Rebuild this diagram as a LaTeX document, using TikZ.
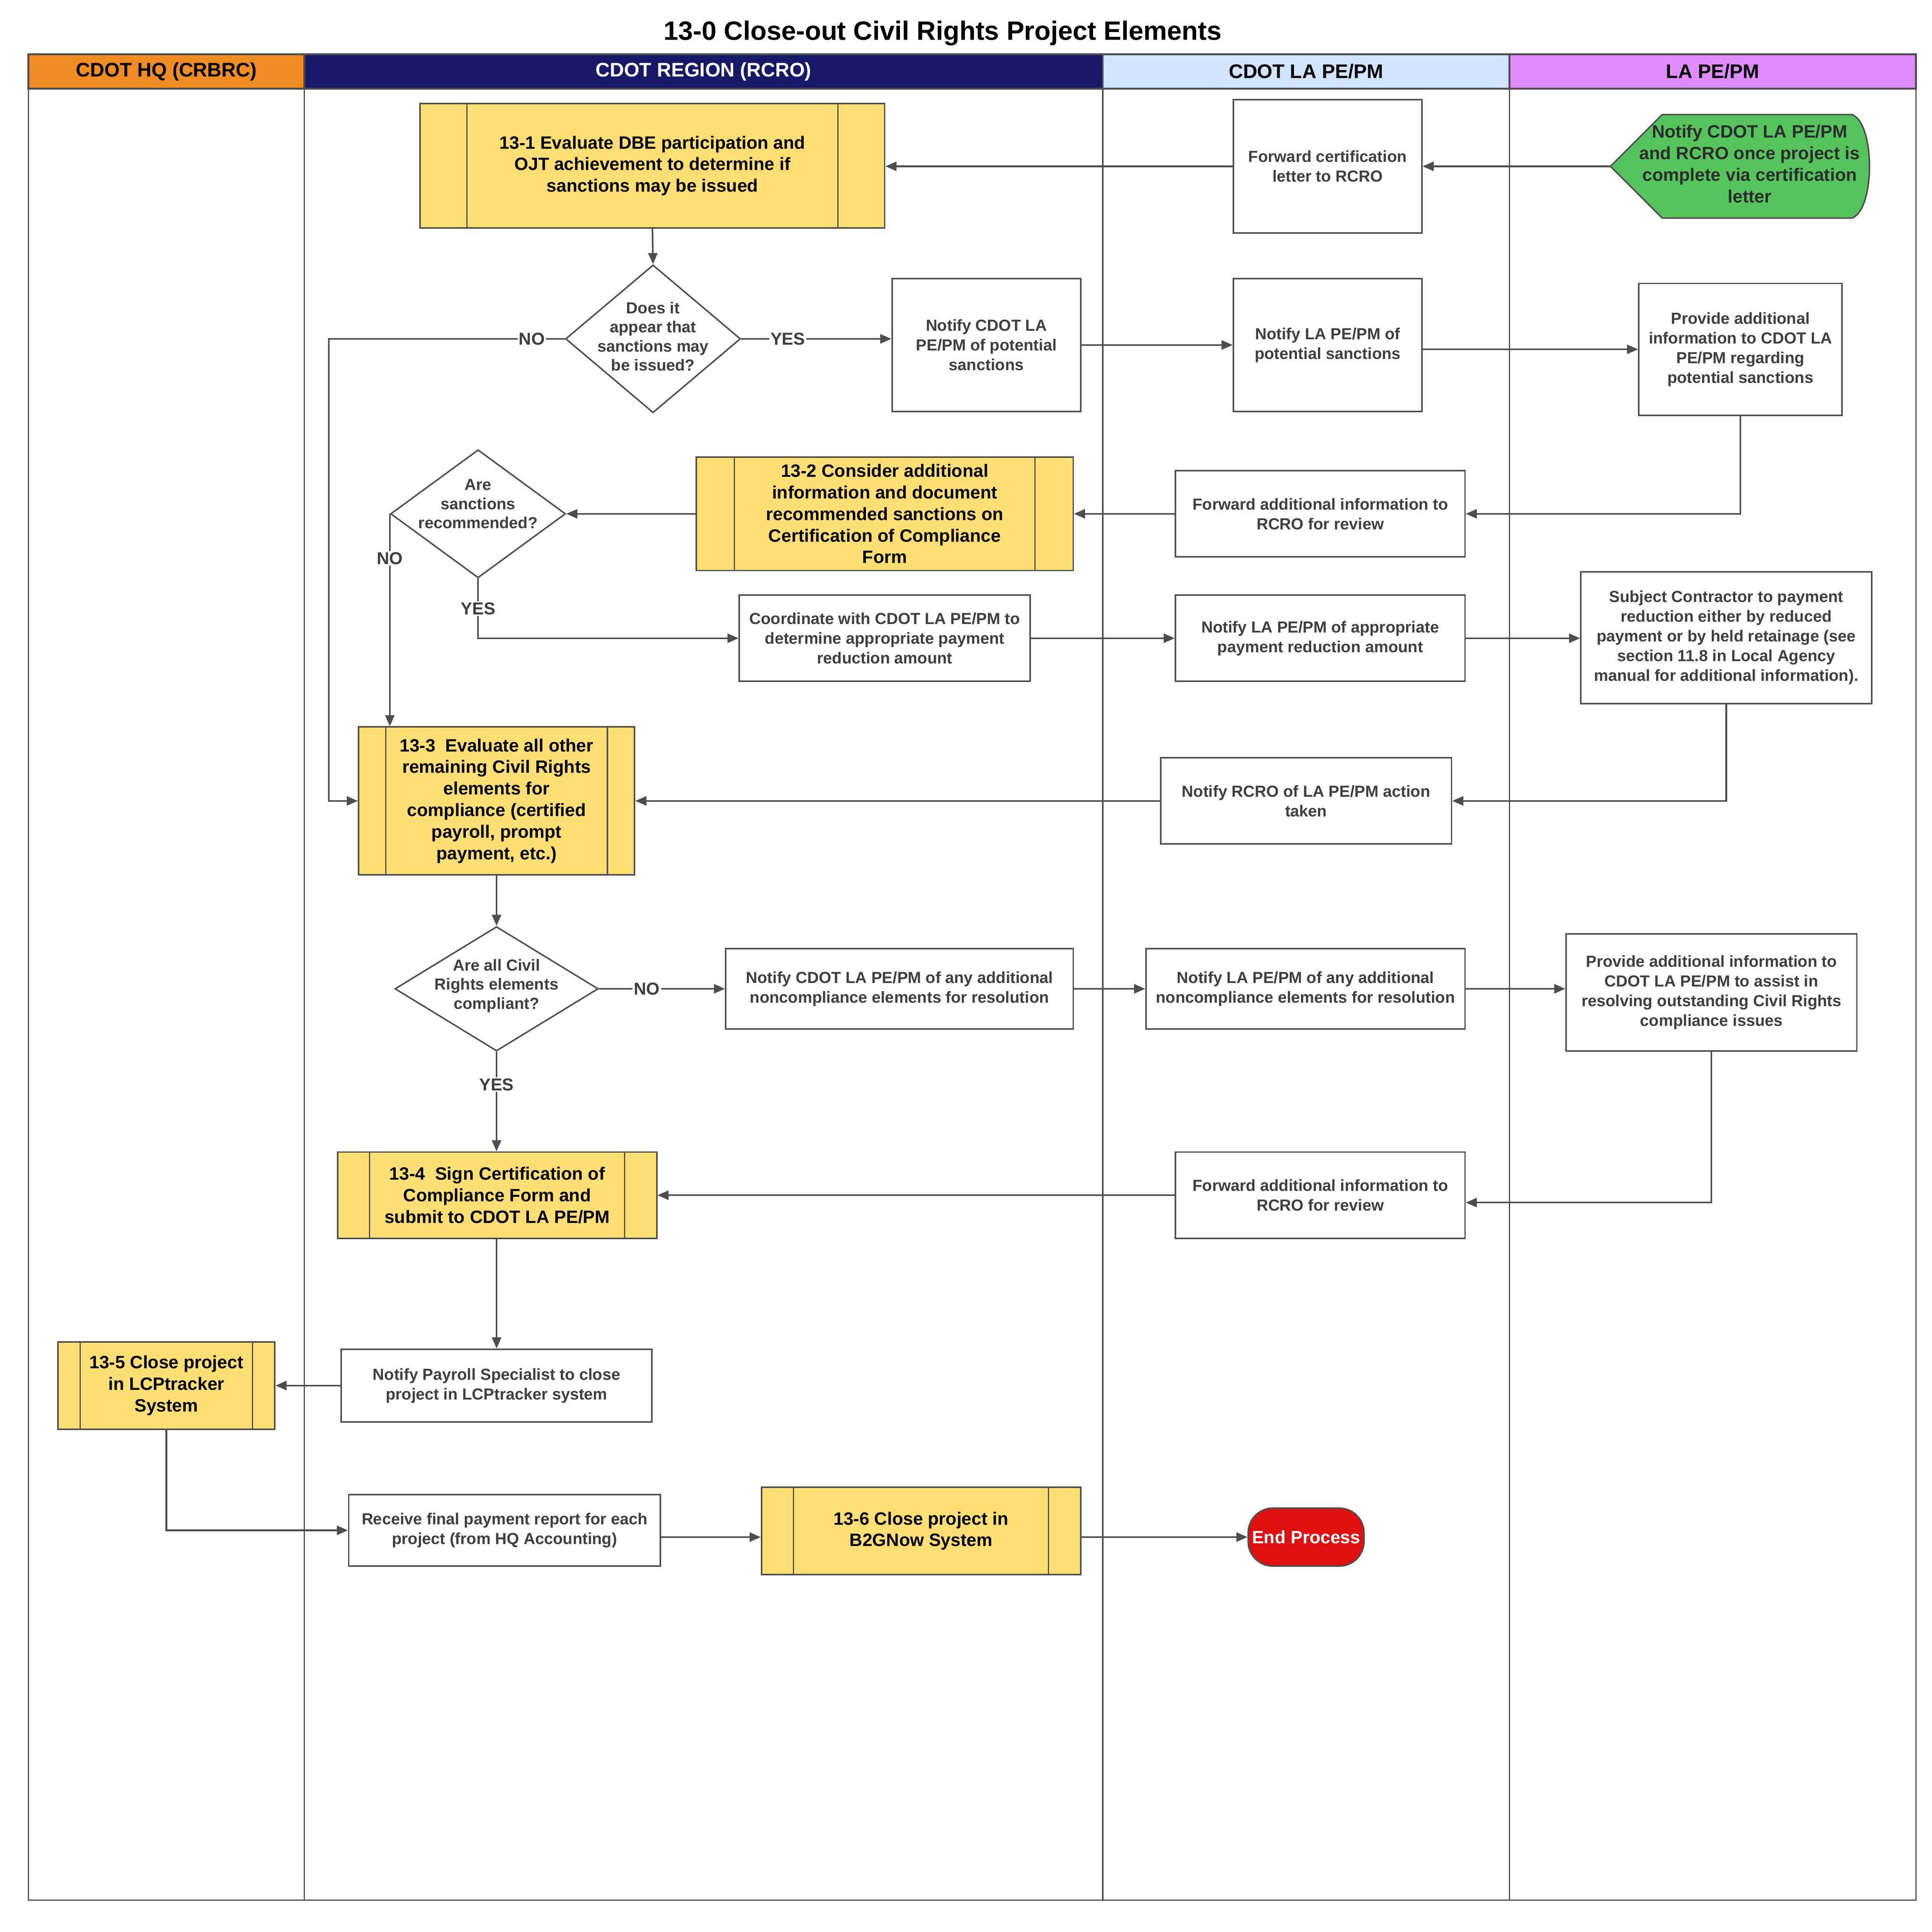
\documentclass[tikz,border=0pt]{standalone}
\usepackage{fontspec}
\setmainfont{Liberation Sans}
\usetikzlibrary{shapes.geometric,arrows.meta}
\definecolor{lc}{HTML}{4D4D4D}
\definecolor{tc}{HTML}{3F3F3F}
\definecolor{yel}{HTML}{FFDF73}
\definecolor{grn}{HTML}{55C45C}
\definecolor{endred}{HTML}{E01010}
\definecolor{hqorange}{HTML}{F08C24}
\definecolor{navy}{HTML}{181868}
\definecolor{ltblue}{HTML}{D0E4FF}
\definecolor{violet}{HTML}{DF8CFF}
\begin{document}
\begin{tikzpicture}[x=1pt,y=-1pt,
  box/.style={draw=lc, line width=1.2pt, fill=white, text=tc, font=\fontsize{13}{16}\selectfont\bfseries, align=center, inner sep=2pt},
  proc/.style={draw=lc, line width=1.2pt, fill=yel, text=black, font=\fontsize{14.5}{17.5}\selectfont\bfseries, align=center, inner sep=2pt,
    path picture={\draw[lc, line width=1pt] ([xshift=#1]path picture bounding box.north west) -- ([xshift=#1]path picture bounding box.south west);
                  \draw[lc, line width=1pt] ([xshift=-#1]path picture bounding box.north east) -- ([xshift=-#1]path picture bounding box.south east);}},
  dia/.style={diamond, draw=lc, line width=1.2pt, fill=white, inner sep=0pt},
  dtext/.style={text=tc, font=\fontsize{13}{15.5}\selectfont\bfseries, align=center, inner sep=0pt},
  lbl/.style={fill=white, text=tc, font=\fontsize{14}{16}\selectfont\bfseries, inner sep=1pt},
  arr/.style={draw=lc, line width=1.3pt, -{Triangle[length=9pt,width=7.5pt]}},
  hdr/.style={draw=lc, line width=1.5pt, font=\fontsize{16}{18}\selectfont\bfseries, minimum height=28, inner sep=0pt},
  lane/.style={draw=lc, line width=1pt}
]
\useasboundingbox (0,0) rectangle (1568,1568);

% title
\node[font=\fontsize{21.5}{24}\selectfont\bfseries] (title) at (765,27) {13-0 Close-out Civil Rights Project Elements};

% lanes
\draw[lane] (23,72) rectangle (247,1542);
\draw[lane] (247,72) rectangle (895,1542);
\draw[lane] (895,72) rectangle (1225,1542);
\draw[lane] (1225,72) rectangle (1555,1542);
\node[hdr, fill=hqorange, minimum width=224] (hHQ) at (135,58) {CDOT HQ (CRBRC)};
\node[hdr, fill=navy, text=white, minimum width=648] (hRG) at (571,58) {CDOT REGION (RCRO)};
\node[hdr, fill=ltblue, minimum width=330] (hCL) at (1060,58) {CDOT LA PE/PM};
\node[hdr, fill=violet, minimum width=330] (hLA) at (1390,58) {LA PE/PM};

% start shape
\draw[draw=lc, line width=1.2pt, fill=grn] (1307,135) -- (1349,93) -- (1503,93) .. controls (1522,100) and (1522,170) .. (1503,177) -- (1349,177) -- cycle;
\coordinate (startL) at (1307,135);
\node[text=tc!70!black, font=\fontsize{14.5}{17.5}\selectfont\bfseries, align=center, inner sep=0pt] (start) at (1420,133)
  {Notify CDOT LA PE/PM\\and RCRO once project is\\complete via certification\\letter};

% nodes
\node[proc=38, minimum width=377, minimum height=101] (P131) at (529.5,134.5) {13-1 Evaluate DBE participation and\\OJT achievement to determine if\\sanctions may be issued};
\node[box, minimum width=153, minimum height=108] (fwdcert) at (1077.5,135) {Forward certification\\letter to RCRO};

\node[dia, minimum width=142, minimum height=120] (D1) at (530,275) {};
\node[dtext] (D1t) at (530,273) {Does it\\appear that\\sanctions may\\be issued?};
\node[box, minimum width=153, minimum height=108] (notifyCDOT) at (800.5,280) {Notify CDOT LA\\PE/PM of potential\\sanctions};
\node[box, minimum width=153, minimum height=108] (notifyLA1) at (1077.5,280) {Notify LA PE/PM of\\potential sanctions};
\node[box, minimum width=165, minimum height=107] (provide1) at (1412.5,283.5) {Provide additional\\information to CDOT LA\\PE/PM regarding\\potential sanctions};

\node[box, minimum width=235, minimum height=70] (fwd1) at (1071.5,417) {Forward additional information to\\RCRO for review};
\node[proc=31, minimum width=306, minimum height=92] (P132) at (718,417) {13-2 Consider additional\\information and document\\recommended sanctions on\\Certification of Compliance\\Form};
\node[dia, minimum width=142, minimum height=104] (D2) at (388,417) {};
\node[dtext] (D2t) at (388,409) {Are\\sanctions\\recommended?};

\node[box, minimum width=236, minimum height=70] (coord) at (718,518) {Coordinate with CDOT LA PE/PM to\\determine appropriate payment\\reduction amount};
\node[box, minimum width=235, minimum height=70] (notifyLA2) at (1071.5,518) {Notify LA PE/PM of appropriate\\payment reduction amount};
\node[box, minimum width=236, minimum height=107] (subject) at (1401,517.5) {Subject Contractor to payment\\reduction either by reduced\\payment or by held retainage (see\\section 11.8 in Local Agency\\manual for additional information).};

\node[box, minimum width=236, minimum height=70] (notifyRCRO) at (1060,650) {Notify RCRO of LA PE/PM action\\taken};
\node[proc=22, minimum width=224, minimum height=120] (P133) at (403,650) {13-3\ \ Evaluate all other\\remaining Civil Rights\\elements for\\compliance (certified\\payroll, prompt\\payment, etc.)};

\node[dia, minimum width=165, minimum height=101] (D3) at (403,802.5) {};
\node[dtext] (D3t) at (403,800) {Are all Civil\\Rights elements\\compliant?};
\node[box, minimum width=282, minimum height=65] (notifyCDOT2) at (730,802.5) {Notify CDOT LA PE/PM of any additional\\noncompliance elements for resolution};
\node[box, minimum width=259, minimum height=65] (notifyLA3) at (1059.5,802.5) {Notify LA PE/PM of any additional\\noncompliance elements for resolution};
\node[box, minimum width=236, minimum height=95] (provide2) at (1389,805.5) {Provide additional information to\\CDOT LA PE/PM to assist in\\resolving outstanding Civil Rights\\compliance issues};

\node[box, minimum width=235, minimum height=70] (fwd2) at (1071.5,970) {Forward additional information to\\RCRO for review};
\node[proc=26, minimum width=259, minimum height=70] (P134) at (403.5,970) {13-4\ \ Sign Certification of\\Compliance Form and\\submit to CDOT LA PE/PM};

\node[box, minimum width=252, minimum height=59] (notifyPayroll) at (403,1124.5) {Notify Payroll Specialist to close\\project in LCPtracker system};
\node[proc=18, minimum width=176, minimum height=71] (P135) at (135,1124.5) {13-5 Close project\\in LCPtracker\\System};

\node[box, minimum width=253, minimum height=58] (receive) at (409.5,1242) {Receive final payment report for each\\project (from HQ Accounting)};
\node[proc=26, minimum width=259, minimum height=71] (P136) at (747.5,1242.5) {13-6 Close project in\\B2GNow System};
\node[draw=lc, line width=1.2pt, fill=endred, rounded corners=20pt, minimum width=94, minimum height=47, inner sep=1pt,
  text=white, font=\fontsize{14.5}{17}\selectfont\bfseries] (end) at (1060,1247.5) {End Process};

% connectors
\draw[arr] (startL) -- (fwdcert.east);
\draw[arr] (fwdcert.west) -- (fwdcert.west -| P131.east);
\draw[arr] (P131.south) -- (D1.north);
\coordinate (n1) at (267,275);
\draw[arr] (D1.west) -- node[lbl, pos=0.14] (noA) {NO} (n1) -- (n1 |- P133.west) -- (P133.west);
\draw[arr] (D1.east) -- node[lbl, pos=0.31] (yesA) {YES} (D1.east -| notifyCDOT.west);
\draw[arr] (notifyCDOT.east) -- (notifyLA1.west);
\draw[arr] (notifyLA1.east |- provide1.west) -- (provide1.west);
\draw[arr] (provide1.south) |- (fwd1.east);
\draw[arr] (fwd1.west) -- (P132.east);
\draw[arr] (P132.west) -- (D2.east);
\draw[arr] (D2.west) -- node[lbl, pos=0.21] (noB) {NO} (D2.west |- P133.north);
\draw[arr] (D2.south) |- node[lbl, pos=0.25] (yesB) {YES} (coord.west);
\draw[arr] (coord.east) -- (notifyLA2.west);
\draw[arr] (notifyLA2.east) -- (notifyLA2.east -| subject.west);
\draw[arr] (subject.south) |- (notifyRCRO.east);
\draw[arr] (notifyRCRO.west) -- (P133.east);
\draw[arr] (P133.south) -- (D3.north);
\draw[arr] (D3.east) -- node[lbl, pos=0.38] (noC) {NO} (notifyCDOT2.west);
\draw[arr] (notifyCDOT2.east) -- (notifyLA3.west);
\draw[arr] (notifyLA3.east) -- (notifyLA3.east -| provide2.west);
\draw[arr] (provide2.south) |- ([yshift=-6pt]fwd2.east);
\draw[arr] (fwd2.west) -- (P134.east);
\draw[arr] (D3.south) -- node[lbl, pos=0.33] (yesC) {YES} (D3.south |- P134.north);
\draw[arr] (notifyPayroll.north |- P134.south) -- (notifyPayroll.north);
\draw[arr] (notifyPayroll.west) -- (P135.east);
\draw[arr] (P135.south) |- (receive.west);
\draw[arr] (receive.east |- end.west) -- (P136.west |- end.west);
\draw[arr] (P136.east |- end.west) -- (end.west);
\end{tikzpicture}
\end{document}
